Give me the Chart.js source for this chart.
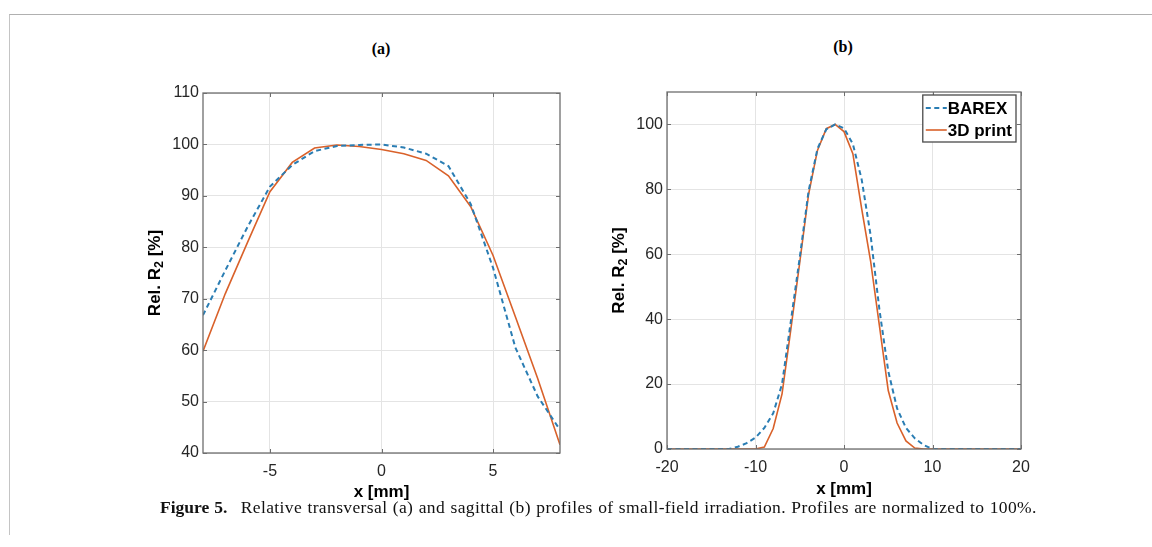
<!DOCTYPE html>
<html>
<head>
<meta charset="utf-8">
<title>Figure 5</title>
<script src="https://cdn.jsdelivr.net/npm/chart.js@4.4.0/dist/chart.umd.min.js"></script>
<style>
    body {
        margin: 0;
        width: 1152px;
        height: 547px;
        overflow: hidden;
        position: relative;
        background: #fff;
        font-family: "Liberation Sans", Arial, sans-serif;
    }
    .frame {
        position: absolute;
        left: 9px;
        top: 14px;
        width: 1143px;
        height: 520px;
        border-top: 1.5px solid #b0b0b0;
        border-left: 1.5px solid #c4c4c4;
    }
    .panel {
        position: absolute;
    }
    .tag {
        position: absolute;
        transform: translate(-50%, -50%);
        font: bold 16px "Liberation Serif", "Times New Roman", serif;
        color: #000;
    }
    .caption {
        position: absolute;
        left: 160px;
        top: 497px;
        font: 17.5px "Liberation Serif", "Times New Roman", serif;
        letter-spacing: 0.38px;
        word-spacing: 0.6px;
        color: #111;
        white-space: nowrap;
    }
    .caption b {
        letter-spacing: 0;
        margin-right: 8px;
    }
</style>
</head>
<body>
<div class="frame"></div>
<div class="tag" style="left:381px; top:49px;">(a)</div>
<div class="tag" style="left:843px; top:47px;">(b)</div>
<canvas id="chart-a" class="panel" width="480" height="460" style="left:100px; top:60px;"></canvas>
<canvas id="chart-b" class="panel" width="480" height="460" style="left:570px; top:60px;"></canvas>
<div class="caption"><b>Figure 5.</b> Relative transversal (a) and sagittal (b) profiles of small-field irradiation. Profiles are normalized to 100%.</div>

<script>
// ---- データ: (a) 横断プロファイル ----
const xA = [-8, -7, -6, -5, -4, -3, -2, -1, 0, 1, 2, 3, 4, 5, 6, 7, 8];
const barexA = [66.8, 75.5, 84, 91.8, 96, 98.7, 99.7, 99.9, 100, 99.4, 98.2, 95.8, 88.4, 76, 60.5, 51, 44.5];
const printA = [59.8, 71, 81, 90.8, 96.5, 99.3, 99.9, 99.6, 99.0, 98.2, 96.9, 93.9, 87.9, 78.4, 66.5, 54.5, 41.6];
const xTicksA = [-5, 0, 5];
const yTicksA = [40, 50, 60, 70, 80, 90, 100, 110];

// ---- データ: (b) 矢状プロファイル ----
const xB = [-20, -19, -18, -17, -16, -15, -14, -13, -12, -11, -10, -9, -8, -7, -6, -5, -4, -3, -2, -1, 0,
            1, 2, 3, 4, 5, 6, 7, 8, 9, 10, 11, 12, 13, 14, 15, 16, 17, 18, 19, 20];
const barexB = [0, 0, 0, 0, 0, 0, 0, 0, 0.7, 1.8, 3.5, 6.5, 11, 20, 39.5, 59, 79.5, 92.5, 98.5, 100, 98.8,
                94, 83, 66, 43, 24, 12.5, 6.5, 3.3, 1.2, 0, 0, 0, 0, 0, 0, 0, 0, 0, 0, 0];
const printB = [0, 0, 0, 0, 0, 0, 0, 0, 0, 0, 0, 0.6, 6.3, 17, 37, 57.5, 78.5, 92, 98.7, 100, 97.8,
                91, 74, 58, 38, 18, 8, 2.5, 0.3, 0, 0, 0, 0, 0, 0, 0, 0, 0, 0, 0, 0];
const xTicksB = [-20, -10, 0, 10, 20];
const yTicksB = [0, 20, 40, 60, 80, 100];

const seriesLabels = ['BAREX', '3D print'];

// MATLAB 既定色
const colors = {
    barex: '#2a7db3',
    print: '#d9612a'
};

const fontFamily = '"Liberation Sans", Arial, sans-serif';
const tickFont = { family: fontFamily, size: 16 };
const titleFont = { family: fontFamily, size: 17, weight: 'bold' };

// 枠線と内向きの目盛り
const axesBox = {
    id: 'axesBox',
    afterDatasetsDraw(chart) {
        const { ctx, chartArea: a, scales } = chart;
        ctx.save();
        ctx.strokeStyle = '#6e6e6e';
        ctx.lineWidth = 1.3;
        ctx.strokeRect(a.left, a.top, a.right - a.left, a.bottom - a.top);
        ctx.lineWidth = 1;
        ctx.beginPath();
        scales.x.ticks.forEach(t => {
            const px = Math.round(scales.x.getPixelForValue(t.value)) + 0.5;
            ctx.moveTo(px, a.bottom); ctx.lineTo(px, a.bottom - 4);
            ctx.moveTo(px, a.top); ctx.lineTo(px, a.top + 4);
        });
        scales.y.ticks.forEach(t => {
            const py = Math.round(scales.y.getPixelForValue(t.value)) + 0.5;
            ctx.moveTo(a.left, py); ctx.lineTo(a.left + 4, py);
            ctx.moveTo(a.right, py); ctx.lineTo(a.right - 4, py);
        });
        ctx.stroke();
        ctx.restore();
    }
};

// 縦軸タイトル (R の添字 2 を下げて描く)
const yTitle = {
    id: 'yTitle',
    afterDraw(chart) {
        const { ctx, chartArea: a } = chart;
        const parts = [
            { text: 'Rel. R', size: 17, shift: 0 },
            { text: '2', size: 12.5, shift: 5 },
            { text: ' [%]', size: 17, shift: 0 }
        ];
        ctx.save();
        ctx.translate(a.left - 48, (a.top + a.bottom) / 2);
        ctx.rotate(-Math.PI / 2);
        ctx.fillStyle = '#000';
        ctx.textBaseline = 'middle';
        const widths = parts.map(p => {
            ctx.font = `bold ${p.size}px ${fontFamily}`;
            return ctx.measureText(p.text).width;
        });
        let x = -widths.reduce((s, w) => s + w, 0) / 2;
        parts.forEach((p, i) => {
            ctx.font = `bold ${p.size}px ${fontFamily}`;
            ctx.fillText(p.text, x, p.shift);
            x += widths[i];
        });
        ctx.restore();
    }
};

// 凡例 (グラフ内右上)
const legendBox = {
    id: 'legendBox',
    afterDraw(chart) {
        const { ctx, chartArea } = chart;
        const sets = chart.data.datasets;
        ctx.save();
        ctx.font = `bold 17px ${fontFamily}`;
        const rowH = 22;
        const textW = Math.max(...sets.map(d => ctx.measureText(d.label).width));
        const w = 25 + textW + 4;
        const h = rowH * sets.length + 3;
        const x0 = chartArea.right - 5 - w;
        const y0 = chartArea.top + 3;
        ctx.fillStyle = '#fff';
        ctx.fillRect(x0, y0, w, h);
        ctx.strokeStyle = '#4a4a4a';
        ctx.lineWidth = 1.3;
        ctx.strokeRect(x0, y0, w, h);
        sets.forEach((d, i) => {
            const cy = y0 + 2 + rowH * i + rowH / 2;
            ctx.beginPath();
            ctx.setLineDash(d.borderDash || []);
            ctx.strokeStyle = d.borderColor;
            ctx.lineWidth = d.borderWidth;
            ctx.moveTo(x0 + 3, cy);
            ctx.lineTo(x0 + 24, cy);
            ctx.stroke();
            ctx.setLineDash([]);
            ctx.fillStyle = '#000';
            ctx.textBaseline = 'middle';
            ctx.fillText(d.label, x0 + 25, cy + 1);
        });
        ctx.restore();
    }
};

function toPoints(xs, ys) {
    return xs.map((x, i) => ({ x: x, y: ys[i] }));
}

/**
 * 1 枚のパネルを描画する
 */
function drawProfile(id, cfg) {
    const ctx = document.getElementById(id).getContext('2d');
    const plugins = [axesBox, yTitle];
    if (cfg.legend) plugins.push(legendBox);
    return new Chart(ctx, {
        type: 'line',
        data: {
            datasets: [{
                label: seriesLabels[0],
                data: toPoints(cfg.x, cfg.barex),
                borderColor: colors.barex,
                borderWidth: 2,
                borderDash: [5, 3.5],
                pointRadius: 0,
                tension: 0
            }, {
                label: seriesLabels[1],
                data: toPoints(cfg.x, cfg.print),
                borderColor: colors.print,
                borderWidth: 1.6,
                pointRadius: 0,
                tension: 0
            }]
        },
        options: {
            responsive: false,
            animation: false,
            layout: { padding: cfg.padding },
            plugins: {
                legend: { display: false },
                tooltip: { enabled: false }
            },
            scales: {
                x: {
                    type: 'linear',
                    min: cfg.xMin,
                    max: cfg.xMax,
                    afterBuildTicks: s => { s.ticks = cfg.xTicks.map(v => ({ value: v })); },
                    afterFit: s => { s.height = cfg.xAxisH; },
                    grid: { color: '#e4e4e4', drawTicks: false },
                    border: { display: false },
                    ticks: { font: tickFont, color: '#262626', padding: 9, maxRotation: 0 },
                    title: {
                        display: true,
                        text: 'x [mm]',
                        font: titleFont,
                        color: '#000',
                        padding: { top: 0, bottom: cfg.xTitlePad }
                    }
                },
                y: {
                    min: cfg.yMin,
                    max: cfg.yMax,
                    afterBuildTicks: s => { s.ticks = cfg.yTicks.map(v => ({ value: v })); },
                    afterFit: s => { s.width = cfg.yAxisW; },
                    grid: { color: '#e4e4e4', drawTicks: false },
                    border: { display: false },
                    ticks: { font: tickFont, color: '#262626', padding: 4 }
                }
            }
        },
        plugins: plugins
    });
}

drawProfile('chart-a', {
    x: xA, barex: barexA, print: printA,
    xMin: -8, xMax: 8, yMin: 40, yMax: 110,
    xTicks: xTicksA, yTicks: yTicksA,
    padding: { left: 0, top: 33, right: 20, bottom: 0 },
    yAxisW: 103, xAxisH: 67,
    xTitlePad: 17,
    legend: false
});

drawProfile('chart-b', {
    x: xB, barex: barexB, print: printB,
    xMin: -20, xMax: 20, yMin: 0, yMax: 110,
    xTicks: xTicksB, yTicks: yTicksB,
    padding: { left: 0, top: 32, right: 29, bottom: 0 },
    yAxisW: 97, xAxisH: 71,
    xTitlePad: 20,
    legend: true
});
</script>
</body>
</html>
